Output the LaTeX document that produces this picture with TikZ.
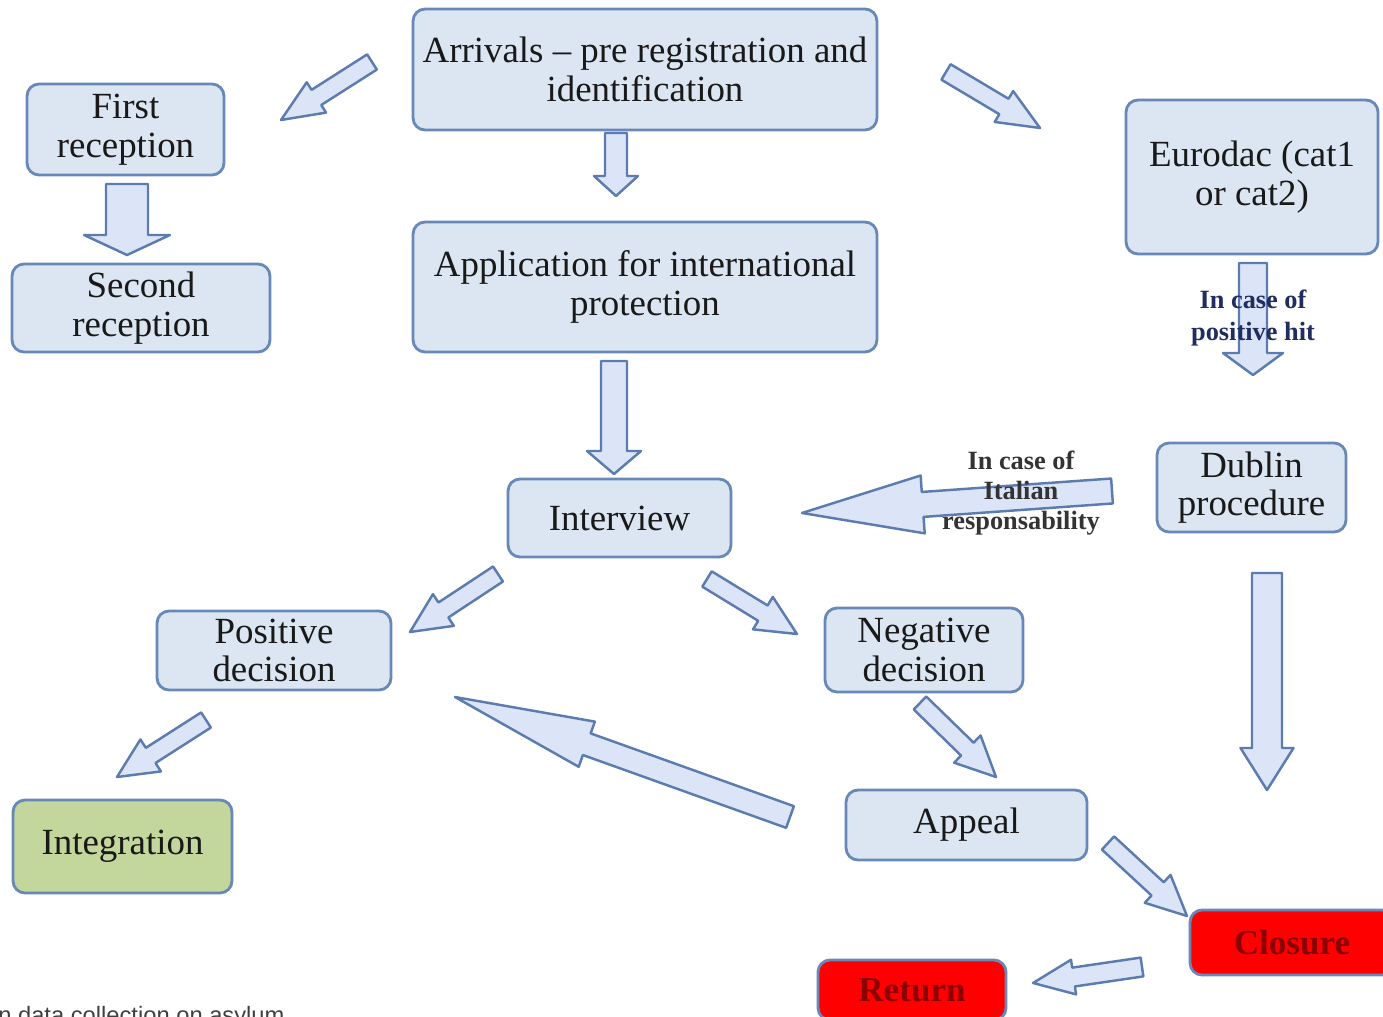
\documentclass[tikz,border=0pt]{standalone}
\usepackage{fontspec}
\setmainfont{Liberation Serif}
\setsansfont{Liberation Sans}
\usetikzlibrary{calc}

\definecolor{boxfill}{RGB}{220,230,242}
\definecolor{boxline}{RGB}{104,136,185}
\definecolor{arrowfill}{RGB}{219,229,247}
\definecolor{arrowline}{RGB}{92,124,176}
\definecolor{greenfill}{RGB}{195,214,155}
\definecolor{hitblue}{RGB}{31,45,96}
\definecolor{darkred}{RGB}{140,0,0}

\tikzset{
  box/.style={draw=boxline, fill=boxfill, line width=1.6pt, rounded corners=0.24cm,
    align=center, inner sep=0pt, text=black!90,
    font=\fontsize{21}{22}\selectfont},
  greenbox/.style={box, fill=greenfill},
  redbox/.style={box, fill=red, text=darkred, font=\bfseries\fontsize{20}{22}\selectfont},
  barrow/.style={draw=arrowline, fill=arrowfill, line width=1.4pt, line join=round},
  note/.style={align=center, inner sep=0pt, font=\bfseries\fontsize{15}{18}\selectfont}
}

\newcommand\blockarrow[5]{%
  \coordinate (hb) at ($(#2)!#5!(#1)$);
  \draw[barrow] ($(#1)!#3!90:(#2)$) -- ($(hb)!#3!-90:(#1)$) -- ($(hb)!#4!-90:(#1)$) -- (#2)
    -- ($(hb)!#4!90:(#1)$) -- ($(hb)!#3!90:(#1)$) -- ($(#1)!#3!-90:(#2)$) -- cycle;}

\begin{document}
\begin{tikzpicture}[x=0.02cm, y=-0.02cm]
\useasboundingbox (0,0) rectangle (1383,1017);
\clip (0,0) rectangle (1383,1017);

\node[box, minimum width=9.28cm, minimum height=2.42cm] (arrivals) at (645,69.5) {Arrivals -- pre registration and\\identification};
\node[box, minimum width=3.94cm, minimum height=1.82cm] (first) at (125.5,129.5) {First\\reception};
\node[box, minimum width=5.16cm, minimum height=1.76cm] (second) at (141,308) {Second\\reception};
\node[box, minimum width=9.28cm, minimum height=2.6cm] (application) at (645,287) {Application for international\\protection};
\node[box, minimum width=5.04cm, minimum height=3.08cm] (eurodac) at (1252,177) {Eurodac (cat1\\or cat2)};
\node[box, minimum width=4.46cm, minimum height=1.56cm] (interview) at (619.5,518) {Interview};
\node[box, minimum width=3.78cm, minimum height=1.78cm] (dublin) at (1251.5,487.5) {Dublin\\procedure};
\node[box, minimum width=4.68cm, minimum height=1.58cm] (positive) at (274,650.5) {Positive\\decision};
\node[box, minimum width=3.96cm, minimum height=1.68cm] (negative) at (924,650) {Negative\\decision};
\node[box, minimum width=4.82cm, minimum height=1.4cm] (appeal) at (966.5,825) {Appeal};
\node[greenbox, minimum width=4.38cm, minimum height=1.86cm] (integration) at (122.5,846.5) {Integration};
\node[redbox, minimum width=4.08cm, minimum height=1.3cm] (closure) at (1292,942.5) {Closure};
\node[redbox, minimum width=3.76cm, minimum height=1.2cm] (return) at (912,990) {Return};

\coordinate (arr-first-s) at (372,62);
\coordinate (arr-first-e) at (281,120);
\coordinate (arr-euro-s) at (946,72);
\coordinate (arr-euro-e) at (1040,128);
\coordinate (arr-app-s) at (616,133);
\coordinate (arr-app-e) at (616,196);
\coordinate (first-sec-s) at (127,184);
\coordinate (first-sec-e) at (127,255);
\coordinate (app-int-s) at (614,361);
\coordinate (app-int-e) at (614,474);
\coordinate (euro-dub-s) at (1253,263);
\coordinate (euro-dub-e) at (1253,375);
\coordinate (dub-int-s) at (1112,491);
\coordinate (dub-int-e) at (802,513);
\coordinate (int-pos-s) at (498,574);
\coordinate (int-pos-e) at (410,632);
\coordinate (int-neg-s) at (707,579);
\coordinate (int-neg-e) at (797,634);
\coordinate (pos-integ-s) at (206,720);
\coordinate (pos-integ-e) at (117,777);
\coordinate (neg-app-s) at (920,703);
\coordinate (neg-app-e) at (996,777);
\coordinate (app-pos-s) at (790,817);
\coordinate (app-pos-e) at (455,697);
\coordinate (dub-clo-s) at (1267,573);
\coordinate (dub-clo-e) at (1267,790);
\coordinate (app-clo-s) at (1108,843);
\coordinate (app-clo-e) at (1187,916);
\coordinate (clo-ret-s) at (1142,967);
\coordinate (clo-ret-e) at (1033,983);

\blockarrow{arr-first-s}{arr-first-e}{0.18cm}{0.36cm}{0.84cm}
\blockarrow{arr-euro-s}{arr-euro-e}{0.18cm}{0.36cm}{0.84cm}
\blockarrow{arr-app-s}{arr-app-e}{0.22cm}{0.44cm}{0.4cm}
\blockarrow{first-sec-s}{first-sec-e}{0.42cm}{0.86cm}{0.4cm}
\blockarrow{app-int-s}{app-int-e}{0.26cm}{0.54cm}{0.46cm}
\blockarrow{euro-dub-s}{euro-dub-e}{0.28cm}{0.6cm}{0.44cm}
\blockarrow{dub-int-s}{dub-int-e}{0.25cm}{0.58cm}{2.42cm}
\blockarrow{int-pos-s}{int-pos-e}{0.18cm}{0.38cm}{0.8cm}
\blockarrow{int-neg-s}{int-neg-e}{0.18cm}{0.38cm}{0.8cm}
\blockarrow{pos-integ-s}{pos-integ-e}{0.18cm}{0.38cm}{0.8cm}
\blockarrow{neg-app-s}{neg-app-e}{0.18cm}{0.38cm}{0.8cm}
\blockarrow{app-pos-s}{app-pos-e}{0.23cm}{0.48cm}{2.8cm}
\blockarrow{dub-clo-s}{dub-clo-e}{0.3cm}{0.53cm}{0.84cm}
\blockarrow{app-clo-s}{app-clo-e}{0.18cm}{0.38cm}{0.8cm}
\blockarrow{clo-ret-s}{clo-ret-e}{0.19cm}{0.35cm}{0.82cm}

\node[note, text=hitblue] (hit) at (1253,318) {In case of\\positive hit};
\node[note, text=black!80, font=\bfseries\fontsize{15}{17}\selectfont] (italian) at (1021,493) {In case of\\Italian\\responsability};

\node[font=\sffamily\fontsize{13.5}{14}\selectfont, text=black!75, anchor=base west, inner sep=0pt] (source) at (-2,1023) {n data collection on asylum};
\end{tikzpicture}
\end{document}
